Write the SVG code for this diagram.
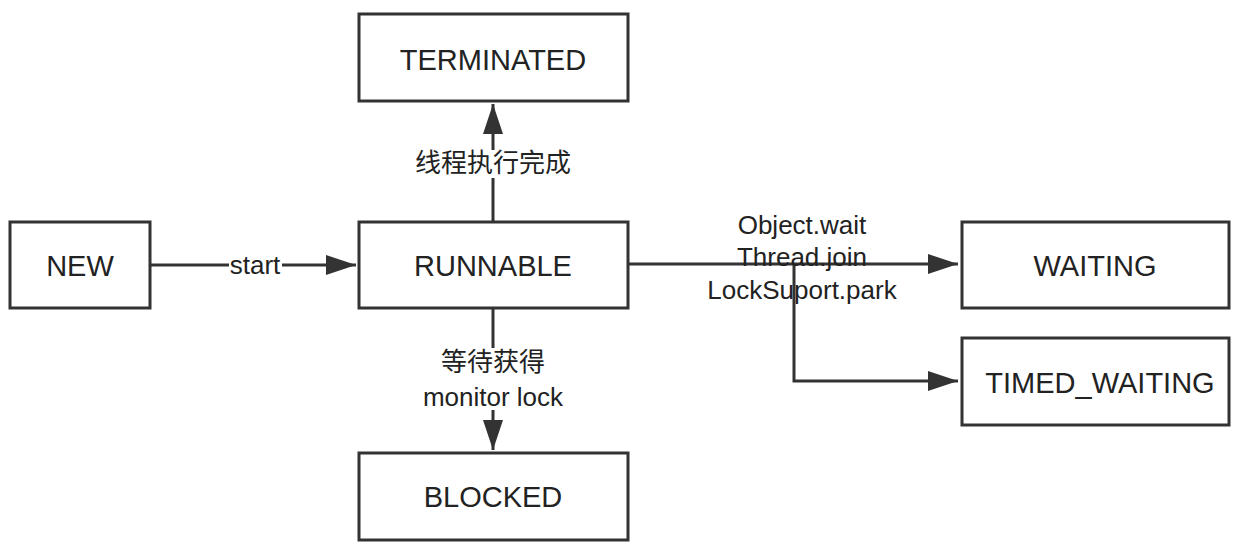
<svg xmlns="http://www.w3.org/2000/svg" width="1254" height="550" viewBox="0 0 1254 550">
<style>
.box{fill:#fff;stroke:#333;stroke-width:3}
.t{font-family:"Liberation Sans","Noto Sans CJK SC",sans-serif;font-size:29px;fill:#222;text-anchor:middle;dominant-baseline:central}
.l{font-family:"Liberation Sans","Noto Sans CJK SC",sans-serif;font-size:26px;fill:#222;text-anchor:middle;dominant-baseline:central}
.e{fill:none;stroke:#333;stroke-width:3}
</style>
<defs>
<marker id="b" viewBox="0 0 30 20" refX="30" refY="10" markerWidth="30" markerHeight="20" orient="auto" markerUnits="userSpaceOnUse">
<path d="M0,0 L30,10 L0,20 z" fill="#333"/>
</marker>
</defs>
<g id="connectors">
<path class="e" d="M150,265 H356" marker-end="url(#b)"/>
<path class="e" d="M493,222 V104" marker-end="url(#b)"/>
<path class="e" d="M493,308 V450" marker-end="url(#b)"/>
<path class="e" d="M628,264 H958" marker-end="url(#b)"/>
<path class="e" d="M794,264 V381 H958" marker-end="url(#b)"/>
<rect x="229" y="254" width="53" height="22" fill="#fff"/>
<text class="l" x="255" y="265">start</text>
<rect x="414" y="150" width="158" height="28" fill="#fff"/>
<text class="l" x="493" y="163">线程执行完成</text>
<rect x="418" y="348" width="150" height="62" fill="#fff"/>
<text class="l" x="493" y="362">等待获得</text>
<text class="l" x="493" y="397">monitor lock</text>
<text class="l" x="802" y="225">Object.wait</text>
<text class="l" x="802" y="257">Thread.join</text>
<text class="l" x="802" y="290">LockSuport.park</text>
</g>
<g id="new"><rect class="box" x="10" y="222" width="140" height="86"/><text class="t" x="80" y="266">NEW</text></g>
<g id="runnable"><rect class="box" x="359" y="222" width="269" height="86"/><text class="t" x="493" y="266">RUNNABLE</text></g>
<g id="terminated"><rect class="box" x="359" y="14" width="269" height="87"/><text class="t" x="493" y="60">TERMINATED</text></g>
<g id="blocked"><rect class="box" x="359" y="453" width="269" height="87"/><text class="t" x="493" y="497">BLOCKED</text></g>
<g id="waiting"><rect class="box" x="962" y="222" width="267" height="86"/><text class="t" x="1095" y="266">WAITING</text></g>
<g id="timed_waiting"><rect class="box" x="962" y="338" width="267" height="87"/><text class="t" x="1100" y="383">TIMED_WAITING</text></g>
</svg>
